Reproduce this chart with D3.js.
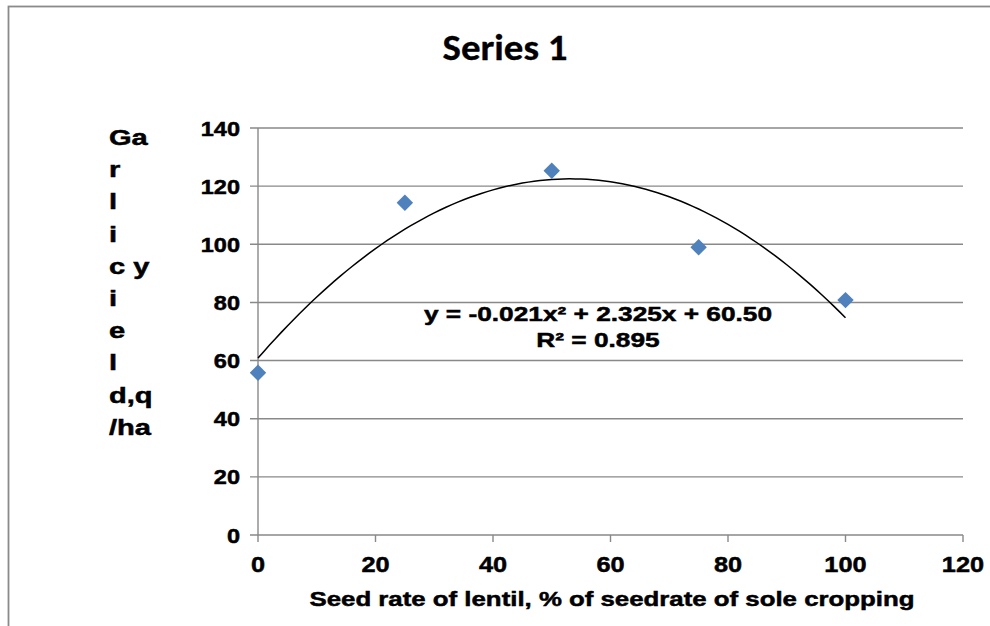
<!DOCTYPE html>
<html>
<head>
<meta charset="utf-8">
<script src="https://cdn.jsdelivr.net/npm/d3@7"></script>
<style>
  body { margin: 0; background: #fff; }
  text { font-family: "Liberation Sans", Arial, sans-serif; font-weight: bold; fill: #000; stroke: #000; stroke-width: 0.5px; }
</style>
</head>
<body>
<div id="chart"></div>
<script>
// data
var seedRate = [0, 25, 50, 75, 100];
var garlicYield = [55.8, 114.3, 125.3, 99, 80.8];
var xTicks = [0, 20, 40, 60, 80, 100, 120];
var yTicks = [0, 20, 40, 60, 80, 100, 120, 140];
var yTitleLines = ["Ga", "r", "l", "i", "c y", "i", "e", "l", "d,q", "/ha"];
var trendLabels = ["y = -0.021x\u00b2 + 2.325x + 60.50", "R\u00b2 = 0.895"];

var W = 990, H = 626;

var x = d3.scaleLinear().domain([0, 120]).range([258, 963]);
var y = d3.scaleLinear().domain([0, 140]).range([535, 128]);

var svg = d3.select("#chart").append("svg")
  .attr("width", W)
  .attr("height", H);

// stretch text horizontally like the source image
function stretch(sel, k) {
  sel.each(function() {
    var len = this.getComputedTextLength();
    d3.select(this).attr("textLength", len * k).attr("lengthAdjust", "spacingAndGlyphs");
  });
}

//////////////////////////////////////////////////////
// FRAME
//////////////////////////////////////////////////////
svg.append("rect")
  .attr("x", 8.5).attr("y", 6.5)
  .attr("width", 1000).attr("height", 700)
  .attr("fill", "#fff")
  .attr("stroke", "#8a8a8a")
  .attr("stroke-width", 1.8);

svg.append("text")
  .attr("x", 505).attr("y", 60)
  .attr("text-anchor", "middle")
  .style("font-family", "Carlito, Lato, 'Open Sans', sans-serif")
  .style("font-size", "36px")
  .style("stroke-width", "0.3px")
  .text("Series 1")
  .attr("textLength", 125)
  .attr("lengthAdjust", "spacingAndGlyphs");

//////////////////////////////////////////////////////
// GRID + AXES
//////////////////////////////////////////////////////
var grid = svg.append("g").attr("stroke", "#898989").attr("stroke-width", 1.4);

grid.selectAll(".hgrid")
  .data(yTicks)
  .enter().append("line")
  .attr("x1", x(0) - 8)
  .attr("x2", x(120))
  .attr("y1", function(d) { return y(d); })
  .attr("y2", function(d) { return y(d); });

grid.append("line")
  .attr("x1", x(0)).attr("x2", x(0))
  .attr("y1", y(140)).attr("y2", y(0) + 7);

grid.selectAll(".xtick")
  .data(xTicks.slice(1))
  .enter().append("line")
  .attr("x1", function(d) { return x(d); })
  .attr("x2", function(d) { return x(d); })
  .attr("y1", y(0)).attr("y2", y(0) + 7);

svg.append("g")
  .selectAll("text")
  .data(yTicks)
  .enter().append("text")
  .attr("x", 240)
  .attr("y", function(d) { return y(d); })
  .attr("dy", "0.36em")
  .attr("text-anchor", "end")
  .style("font-size", "21px")
  .text(function(d) { return d; })
  .call(stretch, 1.12);

svg.append("g")
  .selectAll("text")
  .data(xTicks)
  .enter().append("text")
  .attr("x", function(d) { return x(d); })
  .attr("y", 572)
  .attr("text-anchor", "middle")
  .style("font-size", "22px")
  .text(function(d) { return d; })
  .call(stretch, 1.15);

svg.append("text")
  .attr("x", 612).attr("y", 606)
  .attr("text-anchor", "middle")
  .style("font-size", "21px")
  .text("Seed rate of lentil, % of seedrate of sole cropping")
  .attr("textLength", 605)
  .attr("lengthAdjust", "spacingAndGlyphs");

svg.append("g")
  .selectAll("text")
  .data(yTitleLines)
  .enter().append("text")
  .attr("x", 109)
  .attr("y", function(d, i) { return 145 + i * 32.2; })
  .style("font-size", "22px")
  .style("white-space", "pre")
  .text(function(d) { return d; })
  .call(stretch, 1.32);

//////////////////////////////////////////////////////
// TRENDLINE (least squares quadratic)
//////////////////////////////////////////////////////
function polyFit2(xs, ys) {
  var n = xs.length, s = [0, 0, 0, 0, 0], t = [0, 0, 0];
  for (var i = 0; i < n; i++) {
    for (var p = 0; p < 5; p++) s[p] += Math.pow(xs[i], p);
    for (var q = 0; q < 3; q++) t[q] += ys[i] * Math.pow(xs[i], q);
  }
  var A = [[s[0], s[1], s[2], t[0]], [s[1], s[2], s[3], t[1]], [s[2], s[3], s[4], t[2]]];
  for (var c = 0; c < 3; c++) {
    for (var r = c + 1; r < 3; r++) {
      var f = A[r][c] / A[c][c];
      for (var k = c; k < 4; k++) A[r][k] -= f * A[c][k];
    }
  }
  var b = [0, 0, 0];
  for (var r2 = 2; r2 >= 0; r2--) {
    var v = A[r2][3];
    for (var k2 = r2 + 1; k2 < 3; k2++) v -= A[r2][k2] * b[k2];
    b[r2] = v / A[r2][r2];
  }
  return b;
}

var coef = polyFit2(seedRate, garlicYield);
var fitPts = d3.range(0, 100.5, 1).map(function(v) {
  return [v, coef[0] + coef[1] * v + coef[2] * v * v];
});

svg.append("path")
  .datum(fitPts)
  .attr("fill", "none")
  .attr("stroke", "#000")
  .attr("stroke-width", 1.5)
  .attr("d", d3.line()
    .x(function(d) { return x(d[0]); })
    .y(function(d) { return y(d[1]); }));

//////////////////////////////////////////////////////
// POINTS
//////////////////////////////////////////////////////
svg.append("g")
  .selectAll("path")
  .data(seedRate)
  .enter().append("path")
  .attr("d", d3.symbol().type(d3.symbolSquare).size(135))
  .attr("transform", function(d, i) {
    return "translate(" + x(d) + "," + y(garlicYield[i]) + ") rotate(45)";
  })
  .attr("fill", "#4f81bd");

svg.append("g")
  .selectAll("text")
  .data(trendLabels)
  .enter().append("text")
  .attr("x", 598)
  .attr("y", function(d, i) { return 321 + i * 26; })
  .attr("text-anchor", "middle")
  .style("font-size", "21px")
  .text(function(d) { return d; })
  .call(stretch, 1.25);
</script>
</body>
</html>
